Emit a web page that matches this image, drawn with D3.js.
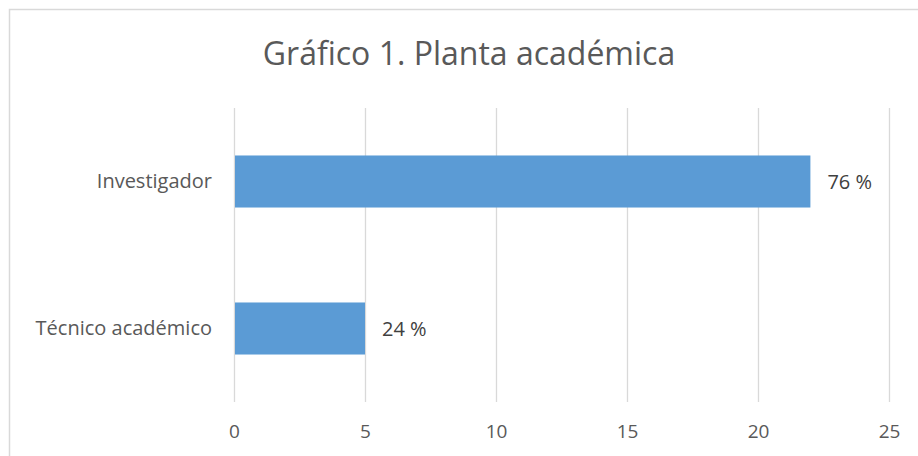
<!DOCTYPE html>
<html>
<head>
<meta charset="utf-8">
<script src="https://cdn.jsdelivr.net/npm/d3@7"></script>
<style>
  body { margin: 0; background: #fff; }
  text { font-family: "Open Sans", "Noto Sans", sans-serif; }
</style>
</head>
<body>
<svg width="918" height="456"></svg>
<script>
// Chart data
const categories = ['Investigador', 'Técnico académico'];
const values = [22, 5];
const percentLabels = ['76 %', '24 %'];
const tickValues = [0, 5, 10, 15, 20, 25];
const title = 'Gráfico 1. Planta académica';

const svg = d3.select('svg');
const plot = {left: 234, right: 889, top: 108, bottom: 402};

// chart frame (only top and left edges are inside the picture)
svg.append('rect')
  .attr('x', 9.5)
  .attr('y', 9.5)
  .attr('width', 940)
  .attr('height', 480)
  .attr('fill', '#fff')
  .attr('stroke', '#d9d9d9')
  .attr('stroke-width', 1.5);

svg.append('text')
  .attr('x', 469)
  .attr('y', 65)
  .attr('text-anchor', 'middle')
  .attr('font-size', 32)
  .attr('fill', '#595959')
  .text(title);

const x = d3.scaleLinear()
  .domain([0, 25])
  .range([plot.left, plot.right]);

const y = d3.scaleBand()
  .domain(categories)
  .range([plot.top, plot.bottom])
  .paddingInner(0.646)
  .paddingOuter(0.323);

// vertical gridlines
svg.append('g')
  .selectAll('line')
  .data(tickValues)
  .join('line')
    .attr('x1', (d) => Math.round(x(d)) + .5)
    .attr('x2', (d) => Math.round(x(d)) + .5)
    .attr('y1', plot.top)
    .attr('y2', plot.bottom)
    .attr('stroke', '#d9d9d9')
    .attr('stroke-width', 1.3);

// x axis labels
const xAxis = d3.axisBottom(x)
  .tickValues(tickValues)
  .tickSize(0)
  .tickPadding(23);

const gx = svg.append('g')
  .attr('transform', `translate(0, ${plot.bottom})`)
  .call(xAxis);
gx.select('.domain').remove();
gx.selectAll('text')
  .attr('font-family', '"Open Sans", sans-serif')
  .attr('font-size', 19)
  .attr('fill', '#595959');

// y axis labels
const yAxis = d3.axisLeft(y)
  .tickSize(0)
  .tickPadding(plot.left - 212);

const gy = svg.append('g')
  .attr('transform', `translate(${plot.left}, 0)`)
  .call(yAxis);
gy.select('.domain').remove();
gy.selectAll('text')
  .attr('font-family', '"Open Sans", sans-serif')
  .attr('font-size', 20)
  .attr('fill', '#595959');

// bars
svg.append('g')
  .selectAll('rect')
  .data(categories)
  .join('rect')
    .attr('x', x(0) + 1)
    .attr('y', (d) => y(d))
    .attr('width', (d, i) => x(values[i]) - x(0) - 1)
    .attr('height', y.bandwidth())
    .attr('fill', '#5b9bd5');

// data labels
svg.append('g')
  .selectAll('text')
  .data(categories)
  .join('text')
    .attr('x', (d, i) => x(values[i]) + 17)
    .attr('y', (d) => y(d) + y.bandwidth() / 2)
    .attr('dy', '0.35em')
    .attr('font-size', 20)
    .attr('fill', '#404040')
    .text((d, i) => percentLabels[i]);
</script>
</body>
</html>
